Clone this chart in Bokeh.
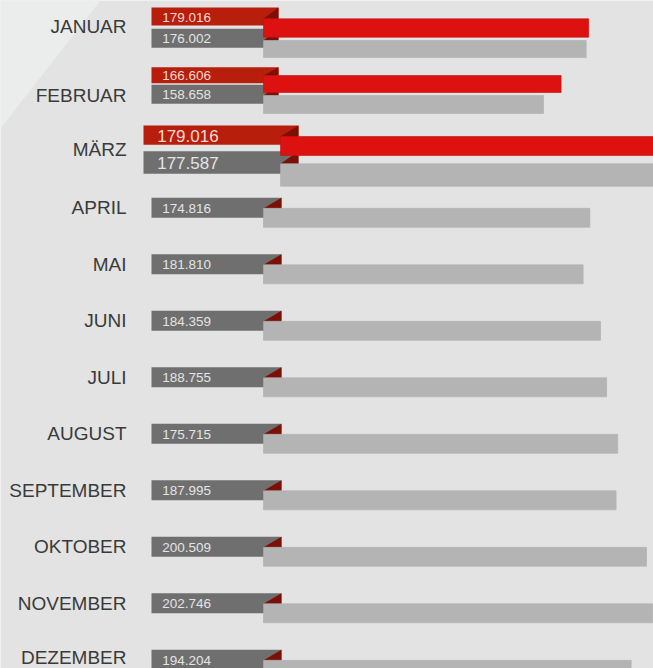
from bokeh.plotting import figure
from bokeh.models import Range1d, ColumnDataSource
from bokeh.core.properties import value
from bokeh.embed import file_html
from bokeh.resources import INLINE

# ---------------- data ----------------
MONTHS = ["JANUAR", "FEBRUAR", "MÄRZ", "APRIL", "MAI", "JUNI", "JULI",
          "AUGUST", "SEPTEMBER", "OKTOBER", "NOVEMBER", "DEZEMBER"]
# labels shown in the dark-grey boxes
LABEL_PREV = ["176.002", "158.658", "177.587", "174.816", "181.810", "184.359",
              "188.755", "175.715", "187.995", "200.509", "202.746", "194.204"]
# labels shown in the red boxes (only Jan-Mar)
LABEL_CUR = ["179.016", "166.606", "179.016"]
# bar lengths (thousands)
BAR_PREV = [177.1, 158.7, 177.6, 178.7, 175.8, 183.3, 185.9, 190.7, 190.0,
            203.1, 205.7, 196.5]
BAR_CUR = [178.2, 166.3, 179.0]

# ---------------- layout (screen pixels) ----------------
W, H = 653, 668
X0, XS = 174.8, 2.32          # px = X0 + XS * value
MAG = 1.2                     # magnification of the highlighted row (MÄRZ)


def px2v(px):
    return (px - X0) / XS


BASE = px2v(263)
ROW_STEP = 56.5
reg_tops = [197.3 + ROW_STEP * (i - 3) for i in range(3, 12)]

g_top = [28.3, 84.3, 150.7] + reg_tops
g_h = [19, 19, 22.6] + [20] * 9
g_left = [151, 151, 143] + [151] * 9
g_right = [278, 278, 298] + [281] * 9
g_fold = [263, 263, 280] + [263] * 9
lb_top = [40, 95, 163.3] + [t + 10.5 for t in reg_tops]
lb_h = [17, 18, 22.4] + [19] * 9
lab_y = [25.8, 94.5, 149] + [t + 10 for t in reg_tops]
lab_y[-1] = min(lab_y[-1], 656.5)
num_x = [161.7, 161.7, 156.7] + [161.7] * 9
num_size = ["13.5px", "13.5px", "17px"] + ["13.5px"] * 9

r_top = [7, 66.7, 125]
r_h = [18, 16, 19.3]
r_left = [151, 151, 143]
r_right = [278, 278, 298]
r_fold = [263, 263, 280]
rb_top = [18.3, 75, 136]
rb_h = [18.4, 17, 19]

BG = "#e2e3e2"
RED_BOX = "#b71e0c"
RED_BAR = "#de1111"
FOLD = "#7c1004"
DARK_GREY = "#6f6f6f"
LIGHT_GREY = "#b3b4b3"

p = figure(width=W, height=H, output_backend="svg", toolbar_location=None,
           x_range=Range1d(px2v(0), px2v(W)),
           y_range=Range1d(H, 0),
           min_border=0, outline_line_color=None,
           background_fill_color=BG, border_fill_color=BG)
p.axis.visible = False
p.grid.visible = False

# magnified range for the highlighted row
mag_scale = XS * MAG
p.extra_x_ranges = {"maerz": Range1d(BASE + (0 - 280) / mag_scale,
                                     BASE + (W - 280) / mag_scale)}

# light diagonal wedge in the top-left corner
p.patch(x=[px2v(0), px2v(100), px2v(0)], y=[0, 0, 128],
        fill_color="#ebecec", line_color=None)

# dark grey boxes
p.quad(left=[px2v(v) for v in g_left], right=[px2v(v) for v in g_right],
       top=g_top, bottom=[t + h for t, h in zip(g_top, g_h)],
       fill_color=DARK_GREY, line_color=None)
# fold triangles on grey boxes
p.patches(xs=[[px2v(r), px2v(r), px2v(f)] for r, f in zip(g_right, g_fold)],
          ys=[[t, b, b] for t, b in zip(g_top, lb_top)],
          fill_color=FOLD, line_color=None)

# light grey bars
norm = list(range(12))
norm.remove(2)
src_prev = ColumnDataSource(dict(
    y=[lb_top[i] + lb_h[i] / 2 for i in norm],
    h=[lb_h[i] for i in norm],
    right=[BAR_PREV[i] for i in norm]))
p.hbar(y="y", height="h", left=BASE, right="right", source=src_prev,
       fill_color=LIGHT_GREY, line_color="#aeafae", line_width=0.6)
p.hbar(y=[lb_top[2] + lb_h[2] / 2], height=[lb_h[2]], left=BASE,
       right=[BAR_PREV[2]], x_range_name="maerz",
       fill_color=LIGHT_GREY, line_color="#aeafae", line_width=0.6)

# red boxes
p.quad(left=[px2v(v) for v in r_left], right=[px2v(v) for v in r_right],
       top=r_top, bottom=[t + h for t, h in zip(r_top, r_h)],
       fill_color=RED_BOX, line_color=None)
p.patches(xs=[[px2v(r), px2v(r), px2v(f)] for r, f in zip(r_right, r_fold)],
          ys=[[t, b, b] for t, b in zip(r_top, rb_top)],
          fill_color=FOLD, line_color=None)

# red bars
p.hbar(y=[rb_top[i] + rb_h[i] / 2 for i in range(2)],
       height=[rb_h[i] for i in range(2)], left=BASE,
       right=[BAR_CUR[i] for i in range(2)],
       fill_color=RED_BAR, line_color="#c40f0f", line_width=0.6)
p.hbar(y=[rb_top[2] + rb_h[2] / 2], height=[rb_h[2]], left=BASE,
       right=[BAR_CUR[2]], x_range_name="maerz",
       fill_color=RED_BAR, line_color="#c40f0f", line_width=0.6)

# month labels
p.text(x=[px2v(126)] * 12, y=lab_y, text=MONTHS,
       text_font=value("Liberation Sans"), text_font_size="19px",
       text_color="#3a3a3a", text_align="right", text_baseline="middle")

# numbers in grey boxes
src_num = ColumnDataSource(dict(
    x=[px2v(v) for v in num_x],
    y=[t + h / 2 + 0.5 for t, h in zip(g_top, g_h)],
    text=LABEL_PREV, size=num_size))
p.text(x="x", y="y", text="text", source=src_num,
       text_font=value("Liberation Sans"), text_font_size="size",
       text_color="#e4e4e4", text_align="left", text_baseline="middle")
# numbers in red boxes
src_cur = ColumnDataSource(dict(
    x=[px2v(v) for v in num_x[:3]],
    y=[t + h / 2 + 0.5 for t, h in zip(r_top, r_h)],
    text=LABEL_CUR, size=num_size[:3]))
p.text(x="x", y="y", text="text", source=src_cur,
       text_font=value("Liberation Sans"), text_font_size="size",
       text_color="#f6d8cf", text_align="left", text_baseline="middle")

open("out.html", "w").write(file_html(p, INLINE))
